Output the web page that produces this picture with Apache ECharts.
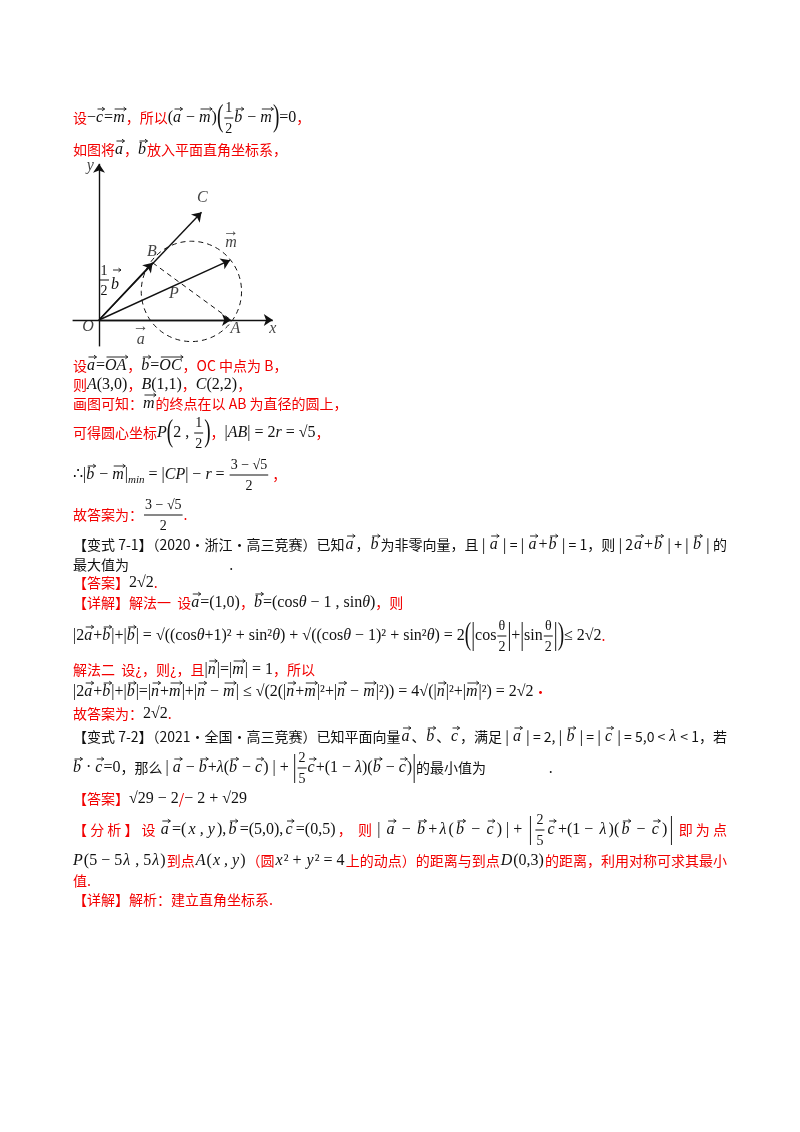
<!DOCTYPE html>
<html><head><meta charset="utf-8">
<script src="https://cdn.jsdelivr.net/npm/echarts@6/dist/echarts.min.js"></script>
<style>body{margin:0;background:#fff}#main{width:800px;height:1132px}</style>
</head><body><div id="main"></div>
<script>
// diagram points (units)
const pointNames = ['O', 'A', 'B', 'C', 'm', 'P'];
const pointX = [0, 3, 1.22, 2.33, 2.98, 2.1];
const pointY = [0, 0, 1.3, 2.45, 1.36, 0.65];
const circleRadius = 1.14;
const axisRange = { xMin: -0.6, xMax: 4, yMin: -0.6, yMax: 3.6 };

const RED = '#f20000', BLACK = '#111';
const CJK = '"Noto Sans CJK SC"', SERIF = '"Liberation Serif"';
const FS = 14, MS = 16;

const ctx = document.createElement('canvas').getContext('2d');
function w(text, font) { ctx.font = font; return ctx.measureText(text).width; }

// segment helpers
const R = t => ({ t, c: RED, f: CJK });
const S = t => ({ t, c: BLACK, f: CJK });
const K = t => ({ t, c: BLACK, f: SERIF, size: MS });
const I = t => ({ t, c: BLACK, f: SERIF, it: true, size: MS });
const V = t => ({ t, c: BLACK, f: SERIF, it: true, vec: true, size: MS });
const Sub = t => ({ t, c: BLACK, f: SERIF, it: true, size: 11, dy: 5 });
const F = (n, d) => ({ frac: [n, d] });
const B = t => ({ t, c: BLACK, f: SERIF, size: 32, scaleX: 0.6 });

const expr = [K('| '), V('a'), K(' − '), V('b'), K('+'), I('λ'), K('('), V('b'), K(' − '), V('c'), K(') | + '), B('|'),
  F('2', '5'), V('c'), K('+(1 − '), I('λ'), K(')('), V('b'), K(' − '), V('c'), K(')'), B('|')];

const lines = [
  { y: 118, s: [R('设'), K('−'), V('c'), K('='), V('m'), R('，所以'), K('('), V('a'), K(' − '), V('m'), K(')'), B('('), F('1', '2'), V('b'), K(' − '), V('m'), B(')'), K('=0'), R('，')] },
  { y: 150, s: [R('如图将'), V('a'), R('，'), V('b'), R('放入平面直角坐标系，')] },
  { y: 366, s: [R('设'), V('a'), K('='), V('OA'), R('，'), V('b'), K('='), V('OC'), R('，OC 中点为 B，')] },
  { y: 385, s: [R('则'), I('A'), K('(3,0)'), R('，'), I('B'), K('(1,1)'), R('，'), I('C'), K('(2,2)'), R('，')] },
  { y: 404, s: [R('画图可知：'), V('m'), R('的终点在以 AB 为直径的圆上，')] },
  { y: 433, s: [R('可得圆心坐标'), I('P'), B('('), K('2 , '), F('1', '2'), B(')'), R('，'), K('|'), I('AB'), K('| = 2'), I('r'), K(' = √5'), R('，')] },
  { y: 475, s: [K('∴|'), V('b'), K(' − '), V('m'), K('|'), Sub('min'), K(' = |'), I('CP'), K('| − '), I('r'), K(' = '), F('3 − √5', '2'), R(' ，')] },
  { y: 515, s: [R('故答案为：'), F('3 − √5', '2'), R('.')] },
  { y: 545, just: true, s: [S('【变式 7-1】（2020·浙江·高三竞赛）已知'), V('a'), S('，'), V('b'), S('为非零向量，且 | '), V('a'), S(' | = | '), V('a'), K('+'), V('b'), S(' | = 1，则 | 2'), V('a'), K('+'), V('b'), S(' | + | '), V('b'), S(' | 的')] },
  { y: 565, s: [S('最大值为                                .')] },
  { y: 583, s: [R('【答案】'), K('2√2'), R('.')] },
  { y: 603, s: [R('【详解】解法一  设'), V('a'), K('=(1,0)'), R('，'), V('b'), K('=(cos'), I('θ'), K(' − 1 , sin'), I('θ'), K(')'), R('，则')] },
  { y: 636, s: [K('|2'), V('a'), K('+'), V('b'), K('|+|'), V('b'), K('| = √((cos'), I('θ'), K('+1)² + sin²'), I('θ'), K(') + √((cos'), I('θ'), K(' − 1)² + sin²'), I('θ'), K(') = 2'), B('('), B('|'), K('cos'), F('θ', '2'), B('|'), K('+'), B('|'), K('sin'), F('θ', '2'), B('|'), B(')'), K('≤ 2√2'), R('.')] },
  { y: 670, s: [R('解法二  设¿，则¿，且'), K('|'), V('n'), K('|=|'), V('m'), K('| = 1'), R('，所以')] },
  { y: 692, s: [K('|2'), V('a'), K('+'), V('b'), K('|+|'), V('b'), K('|=|'), V('n'), K('+'), V('m'), K('|+|'), V('n'), K(' − '), V('m'), K('| ≤ √(2(|'), V('n'), K('+'), V('m'), K('|²+|'), V('n'), K(' − '), V('m'), K('|²)) = 4√(|'), V('n'), K('|²+|'), V('m'), K('|²) = 2√2'), R('·')] },
  { y: 714, s: [R('故答案为：'), K('2√2'), R('.')] },
  { y: 737, just: true, s: [S('【变式 7-2】（2021·全国·高三竞赛）已知平面向量'), V('a'), S('、'), V('b'), S('、'), V('c'), S('，满足 | '), V('a'), S(' | = 2, | '), V('b'), S(' | = | '), V('c'), S(' | = 5,0 < '), I('λ'), S(' < 1，若')] },
  { y: 768, s: [V('b'), K(' · '), V('c'), K('=0'), S('，那么 ')].concat(expr, [S('的最小值为                    .')]) },
  { y: 799, s: [R('【答案】'), K('√29 − 2'), R('/'), K('− 2 + √29')] },
  { y: 830, just: true, s: [R('【 分 析 】 设 '), V('a'), K('=('), I('x , y'), K('),'), V('b'), K('=(5,0),'), V('c'), K('=(0,5)'), R('，  则 ')].concat(expr, [R(' 即 为 点')]) },
  { y: 861, just: true, s: [I('P'), K('(5 − 5'), I('λ'), K(' , 5'), I('λ'), K(')'), R('到点'), I('A'), K('('), I('x , y'), K(')'), R('（圆'), I('x'), K('² + '), I('y'), K('² = 4'), R('上的动点）的距离与到点'), I('D'), K('(0,3)'), R('的距离，利用对称可求其最小')] },
  { y: 881, s: [R('值.')] },
  { y: 900, s: [R('【详解】解析：建立直角坐标系.')] }
];

const LEFT = 73, RIGHT = 727;
function fontOf(seg, size) { return (seg.it ? 'italic ' : '') + (size || FS) + 'px ' + seg.f; }
function segWidth(seg) {
  if (seg.frac) { const fn = '14px ' + SERIF; return Math.max(w(seg.frac[0], fn), w(seg.frac[1], fn)) + 4; }
  return w(seg.t, fontOf(seg, seg.size)) * (seg.scaleX || 1) + (seg.vec ? 1 : 0);
}
function vecArrow(x, y, len) {
  return [
    { type: 'line', shape: { x1: x, y1: y, x2: x + len, y2: y }, style: { stroke: BLACK, lineWidth: 0.9 } },
    { type: 'polyline', shape: { points: [[x + len - 2.5, y - 1.8], [x + len, y], [x + len - 2.5, y + 1.8]] }, style: { stroke: BLACK, lineWidth: 0.9, fill: null } }
  ];
}

const graphic = [];
lines.forEach(line => {
  const widths = line.s.map(segWidth);
  const total = widths.reduce((a, b) => a + b, 0);
  const gap = line.just && line.s.length > 1 ? (RIGHT - LEFT - total) / (line.s.length - 1) : 0;
  let x = LEFT;
  line.s.forEach((seg, i) => {
    if (seg.frac) {
      const fw = widths[i];
      graphic.push({ type: 'text', x: x + fw / 2, y: line.y - 10, style: { text: seg.frac[0], font: '14px ' + SERIF, fill: BLACK, align: 'center', verticalAlign: 'middle' } });
      graphic.push({ type: 'text', x: x + fw / 2, y: line.y + 11, style: { text: seg.frac[1], font: '14px ' + SERIF, fill: BLACK, align: 'center', verticalAlign: 'middle' } });
      graphic.push({ type: 'line', shape: { x1: x + 1, y1: line.y, x2: x + fw - 1, y2: line.y }, style: { stroke: BLACK, lineWidth: 1 } });
    } else {
      graphic.push({ type: 'text', x: x, y: line.y + (seg.dy || 0), scaleX: seg.scaleX || 1,
        style: { text: seg.t, font: fontOf(seg, seg.size), fill: seg.c, verticalAlign: 'middle' } });
      if (seg.vec) graphic.push(...vecArrow(x + 1.5, line.y - 9, Math.max(6, widths[i] - 1)));
    }
    x += widths[i] + gap;
  });
});

const unit = 44, ox = 99, oy = 320;
const gridBox = {
  left: ox + axisRange.xMin * unit, width: (axisRange.xMax - axisRange.xMin) * unit,
  top: oy - axisRange.yMax * unit, height: (axisRange.yMax - axisRange.yMin) * unit
};
const pt = n => [pointX[pointNames.indexOf(n)], pointY[pointNames.indexOf(n)]];
const arrows = [
  [[axisRange.xMin, 0], [axisRange.xMax - 0.05, 0]],
  [[0, axisRange.yMin], [0, axisRange.yMax - 0.05]],
  [pt('O'), pt('C')], [pt('O'), pt('B')], [pt('O'), pt('m')], [pt('O'), pt('A')]
];
const labels = [
  { v: [-0.25, -0.15], t: 'O' }, { v: [3.1, -0.2], t: 'A' }, { v: [1.2, 1.55], t: 'B' },
  { v: [2.35, 2.78], t: 'C' }, { v: [1.7, 0.6], t: 'P' }, { v: [3.0, 1.75], t: 'm' },
  { v: [3.95, -0.2], t: 'x' }, { v: [-0.2, 3.5], t: 'y' }, { v: [0.95, -0.45], t: 'a' },
  { v: [3.0, 2.0], t: '→' }, { v: [0.95, -0.15], t: '→' }
];

// 1/2 b label on left of OB
graphic.push(
  { type: 'text', x: 104, y: 271, style: { text: '1', font: '14px ' + SERIF, fill: BLACK, align: 'center', verticalAlign: 'middle' } },
  { type: 'line', shape: { x1: 100, y1: 280, x2: 109, y2: 280 }, style: { stroke: BLACK } },
  { type: 'text', x: 104, y: 291, style: { text: '2', font: '14px ' + SERIF, fill: BLACK, align: 'center', verticalAlign: 'middle' } },
  { type: 'text', x: 111, y: 285, style: { text: 'b', font: 'italic 16px ' + SERIF, fill: BLACK, verticalAlign: 'middle' } },
  ...vecArrow(113, 270, 8)
);

const chart = echarts.init(document.getElementById('main'));
chart.setOption({
  backgroundColor: '#fff',
  animation: false,
  grid: gridBox,
  xAxis: { type: 'value', min: axisRange.xMin, max: axisRange.xMax, show: false },
  yAxis: { type: 'value', min: axisRange.yMin, max: axisRange.yMax, show: false },
  graphic: graphic,
  series: [
    {
      type: 'lines', coordinateSystem: 'cartesian2d', symbol: ['none', 'arrow'], symbolSize: [0, 9],
      lineStyle: { color: BLACK, width: 1.4, opacity: 1 }, data: arrows.map(c => ({ coords: c }))
    },
    {
      type: 'lines', coordinateSystem: 'cartesian2d', symbol: 'none',
      lineStyle: { color: BLACK, width: 1, opacity: 1, type: [5, 4] }, data: [{ coords: [pt('B'), pt('A')] }]
    },
    {
      type: 'custom', data: [[pointX[5], pointY[5]]],
      renderItem: (params, api) => {
        const c = api.coord([api.value(0), api.value(1)]);
        const r = api.size([circleRadius, 0])[0];
        return { type: 'circle', shape: { cx: c[0], cy: c[1], r: r },
          style: { fill: 'none', stroke: BLACK, lineWidth: 1, lineDash: [5, 4] } };
      }
    },
    {
      type: 'scatter', symbolSize: 0, data: labels.map(l => ({ value: l.v, name: l.t })),
      label: { show: true, position: 'inside', formatter: '{b}', fontFamily: SERIF, fontStyle: 'italic', fontSize: 16, color: BLACK }
    }
  ]
});
</script></body></html>
